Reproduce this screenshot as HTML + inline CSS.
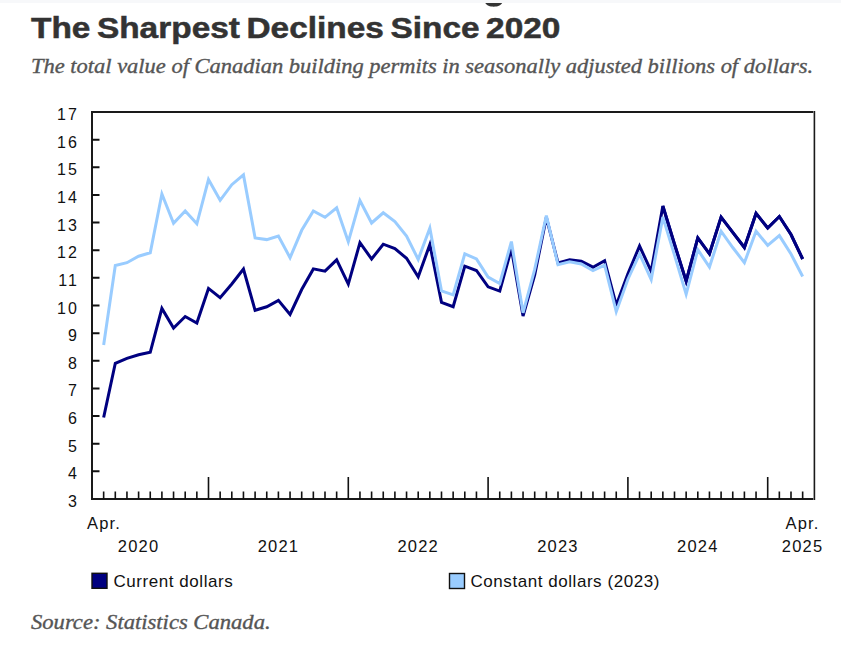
<!DOCTYPE html>
<html><head><meta charset="utf-8">
<style>
html,body{margin:0;padding:0;background:#fff;width:841px;height:646px;overflow:hidden;}
.strip{position:absolute;left:0;top:0;width:841px;height:3px;background:#f7f8fa;}
.title{position:absolute;left:31px;top:7.5px;font-family:"Liberation Sans",sans-serif;font-weight:bold;font-size:30px;letter-spacing:0px;color:#333;transform-origin:0 0;transform:scaleX(1.114);word-spacing:-2.5px;-webkit-text-stroke:0.5px #333;white-space:nowrap;line-height:40px;}
.sub{position:absolute;left:31px;top:51px;font-family:"Liberation Serif",serif;font-style:italic;font-size:20px;letter-spacing:0px;color:#555;transform-origin:0 0;transform:scaleX(1.1234);-webkit-text-stroke:0.35px #555;white-space:nowrap;line-height:30px;}
.src{position:absolute;left:31px;top:607px;font-family:"Liberation Serif",serif;font-style:italic;font-size:20px;letter-spacing:0px;color:#555;transform-origin:0 0;transform:scaleX(1.13);-webkit-text-stroke:0.35px #555;white-space:nowrap;line-height:30px;}
svg{position:absolute;left:0;top:0;}
svg text{font-family:"Liberation Sans",sans-serif;font-size:16px;fill:#111;}
.yl text{letter-spacing:2px;}
.xl text{font-size:16.5px;letter-spacing:1.2px;}
.lg text{font-size:17px;letter-spacing:0.55px;}
</style></head><body>
<div class="strip"></div>
<svg width="841" height="646" viewBox="0 0 841 646">
<path d="M485.3 3 C487.5 7.9 499.8 7.9 502.2 3 Z" fill="#333"/>
<path d="M813.3 112 H92 V499 H813.3" fill="none" stroke="#1a1a1a" stroke-width="2" stroke-linejoin="miter"/><path d="M814.4 111 V500" fill="none" stroke="#1a1a1a" stroke-width="1.6"/>
<path d="M92.0 471.36 H99.5 M92.0 443.71 H99.5 M92.0 416.07 H99.5 M92.0 388.43 H99.5 M92.0 360.79 H99.5 M92.0 333.14 H99.5 M92.0 305.50 H99.5 M92.0 277.86 H99.5 M92.0 250.21 H99.5 M92.0 222.57 H99.5 M92.0 194.93 H99.5 M92.0 167.29 H99.5 M92.0 139.64 H99.5" fill="none" stroke="#111" stroke-width="2"/>
<path d="M103.65 499.0 V491.5 M115.30 499.0 V491.5 M126.95 499.0 V491.5 M138.60 499.0 V491.5 M150.25 499.0 V491.5 M161.90 499.0 V491.5 M173.55 499.0 V491.5 M185.20 499.0 V491.5 M196.85 499.0 V491.5 M208.50 499.0 V477.0 M220.15 499.0 V491.5 M231.80 499.0 V491.5 M243.45 499.0 V491.5 M255.10 499.0 V491.5 M266.75 499.0 V491.5 M278.40 499.0 V491.5 M290.05 499.0 V491.5 M301.70 499.0 V491.5 M313.35 499.0 V491.5 M325.00 499.0 V491.5 M336.65 499.0 V491.5 M348.30 499.0 V477.0 M359.95 499.0 V491.5 M371.60 499.0 V491.5 M383.25 499.0 V491.5 M394.90 499.0 V491.5 M406.55 499.0 V491.5 M418.20 499.0 V491.5 M429.85 499.0 V491.5 M441.50 499.0 V491.5 M453.15 499.0 V491.5 M464.80 499.0 V491.5 M476.45 499.0 V491.5 M488.10 499.0 V477.0 M499.75 499.0 V491.5 M511.40 499.0 V491.5 M523.05 499.0 V491.5 M534.70 499.0 V491.5 M546.35 499.0 V491.5 M558.00 499.0 V491.5 M569.65 499.0 V491.5 M581.30 499.0 V491.5 M592.95 499.0 V491.5 M604.60 499.0 V491.5 M616.25 499.0 V491.5 M627.90 499.0 V477.0 M639.55 499.0 V491.5 M651.20 499.0 V491.5 M662.85 499.0 V491.5 M674.50 499.0 V491.5 M686.15 499.0 V491.5 M697.80 499.0 V491.5 M709.45 499.0 V491.5 M721.10 499.0 V491.5 M732.75 499.0 V491.5 M744.40 499.0 V491.5 M756.05 499.0 V491.5 M767.70 499.0 V477.0 M779.35 499.0 V491.5 M791.00 499.0 V491.5 M802.65 499.0 V491.5" fill="none" stroke="#111" stroke-width="1.6"/>
<path d="M103.65 417.50 L115.30 363.30 L126.95 358.30 L138.60 354.70 L150.25 352.30 L161.90 308.40 L173.55 328.00 L185.20 316.50 L196.85 323.10 L208.50 288.40 L220.15 297.70 L231.80 284.00 L243.45 269.00 L255.10 310.30 L266.75 306.80 L278.40 300.40 L290.05 314.50 L301.70 289.50 L313.35 268.90 L325.00 271.10 L336.65 259.80 L348.30 284.10 L359.95 242.70 L371.60 259.00 L383.25 244.20 L394.90 248.60 L406.55 258.30 L418.20 276.80 L429.85 244.50 L441.50 302.40 L453.15 306.70 L464.80 266.20 L476.45 270.50 L488.10 286.80 L499.75 291.10 L511.40 248.80 L523.05 316.10 L534.70 274.80 L546.35 217.40 L558.00 262.90 L569.65 259.70 L581.30 261.20 L592.95 267.20 L604.60 260.70 L616.25 305.20 L627.90 273.80 L639.55 246.00 L651.20 271.30 L662.85 206.00 L674.50 244.20 L686.15 281.10 L697.80 237.80 L709.45 253.80 L721.10 217.10 L732.75 232.30 L744.40 247.50 L756.05 213.40 L767.70 228.00 L779.35 216.50 L791.00 234.50 L802.65 259.00" fill="none" stroke="#000080" stroke-width="3" stroke-linejoin="miter"/>
<path d="M103.65 345.00 L115.30 265.50 L126.95 262.70 L138.60 256.20 L150.25 252.80 L161.90 194.00 L173.55 223.30 L185.20 211.00 L196.85 223.80 L208.50 179.50 L220.15 200.30 L231.80 184.70 L243.45 174.90 L255.10 237.90 L266.75 239.60 L278.40 236.00 L290.05 257.70 L301.70 230.30 L313.35 211.00 L325.00 217.30 L336.65 207.80 L348.30 241.80 L359.95 200.50 L371.60 223.00 L383.25 212.80 L394.90 221.50 L406.55 236.00 L418.20 259.40 L429.85 228.00 L441.50 290.90 L453.15 294.80 L464.80 253.80 L476.45 259.00 L488.10 277.00 L499.75 283.50 L511.40 241.60 L523.05 312.80 L534.70 269.40 L546.35 215.60 L558.00 264.60 L569.65 261.80 L581.30 264.00 L592.95 270.50 L604.60 265.10 L616.25 311.70 L627.90 279.20 L639.55 254.00 L651.20 279.50 L662.85 217.00 L674.50 255.10 L686.15 294.10 L697.80 249.70 L709.45 267.00 L721.10 231.20 L732.75 247.50 L744.40 262.70 L756.05 231.20 L767.70 245.30 L779.35 235.60 L791.00 254.00 L802.65 276.50" fill="none" stroke="#99ccff" stroke-width="3" stroke-linejoin="miter"/>
<path d="M662.85 206.00 L674.50 244.20 L686.15 281.10 L697.80 237.80 L709.45 253.80 L721.10 217.10 L732.75 232.30 L744.40 247.50 L756.05 213.40 L767.70 228.00 L779.35 216.50 L791.00 234.50 L802.65 259.00" fill="none" stroke="#000080" stroke-width="3" stroke-linejoin="miter"/>
<g class="yl"><text x="78.9" y="507.0" text-anchor="end">3</text><text x="78.9" y="479.4" text-anchor="end">4</text><text x="78.9" y="451.7" text-anchor="end">5</text><text x="78.9" y="424.1" text-anchor="end">6</text><text x="78.9" y="396.4" text-anchor="end">7</text><text x="78.9" y="368.8" text-anchor="end">8</text><text x="78.9" y="341.1" text-anchor="end">9</text><text x="78.9" y="313.5" text-anchor="end">10</text><text x="78.9" y="285.9" text-anchor="end">11</text><text x="78.9" y="258.2" text-anchor="end">12</text><text x="78.9" y="230.6" text-anchor="end">13</text><text x="78.9" y="202.9" text-anchor="end">14</text><text x="78.9" y="175.3" text-anchor="end">15</text><text x="78.9" y="147.6" text-anchor="end">16</text><text x="78.9" y="120.0" text-anchor="end">17</text></g>
<g class="xl">
<text x="87" y="528.8">Apr.</text>
<text x="785.5" y="528.8">Apr.</text>
<text x="138.6" y="551.5" text-anchor="middle">2020</text><text x="278.4" y="551.5" text-anchor="middle">2021</text><text x="418.2" y="551.5" text-anchor="middle">2022</text><text x="558.0" y="551.5" text-anchor="middle">2023</text><text x="697.8" y="551.5" text-anchor="middle">2024</text><text x="802.6" y="551.5" text-anchor="middle">2025</text>
</g>
<g class="lg">
<rect x="92" y="573.3" width="15" height="15" fill="#000080" stroke="#111" stroke-width="1.4"/>
<text x="113.5" y="586.8">Current dollars</text>
<rect x="449.5" y="573.5" width="15" height="15" fill="#99ccff" stroke="#111" stroke-width="1.4"/>
<text x="470.5" y="586.8">Constant dollars (2023)</text>
</g>
</svg>
<div class="title">The Sharpest Declines Since 2020</div>
<div class="sub">The total value of Canadian building permits in seasonally adjusted billions of dollars.</div>
<div class="src">Source: Statistics Canada.</div>
</body></html>
